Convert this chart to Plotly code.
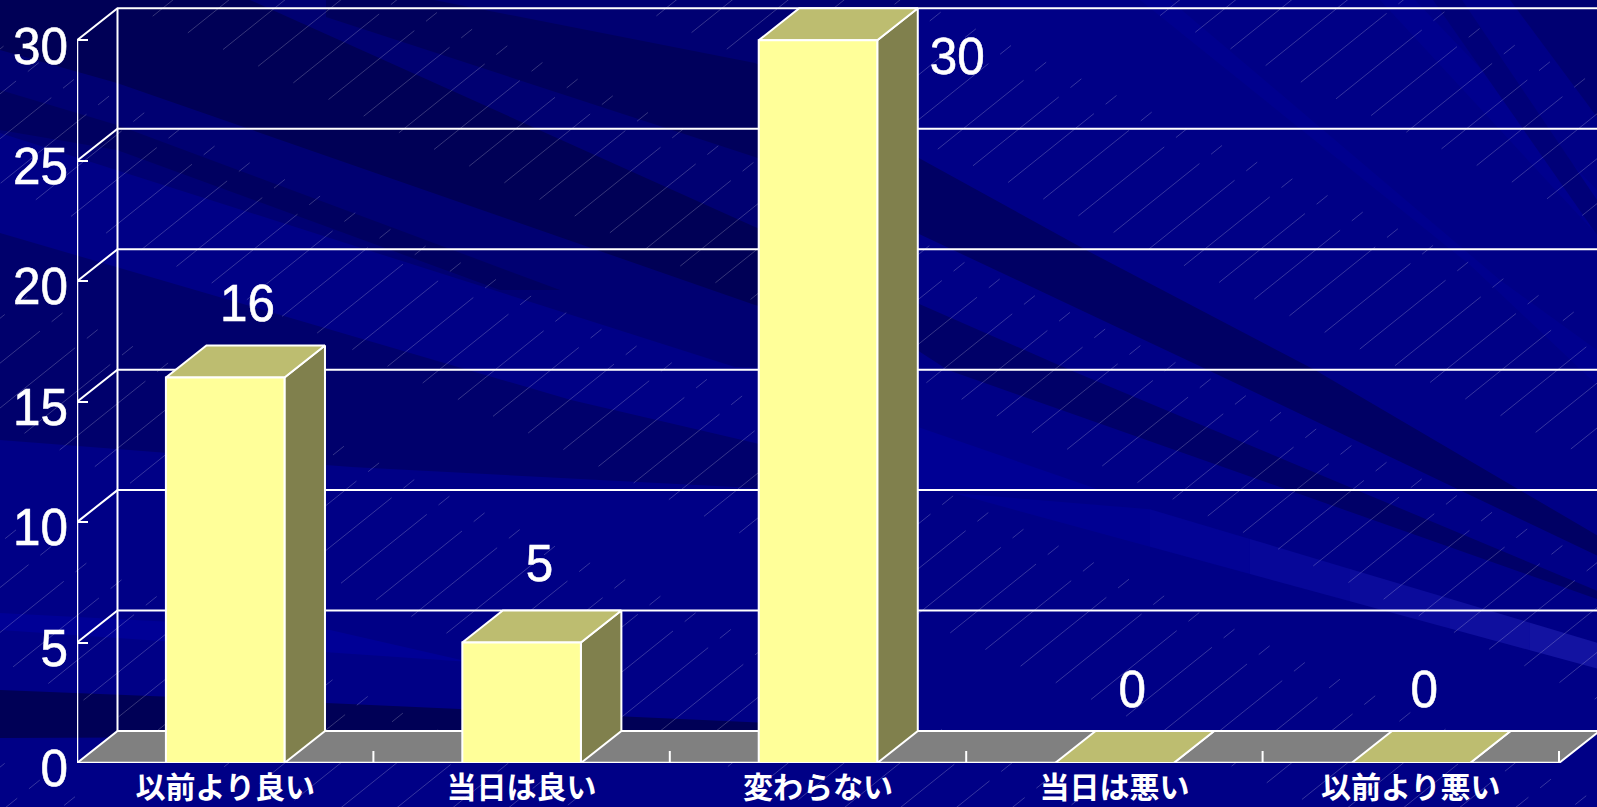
import plotly.graph_objects as go

# ---------- data ----------
categories = ["以前より良い", "当日は良い", "変わらない", "当日は悪い", "以前より悪い"]
values = [16, 5, 30, 0, 0]
y_ticks = [0, 5, 10, 15, 20, 25, 30]
label_dx = [0.075, 0.06, 0.47, 0.06, 0.045]
label_dv = [2.9, 3.1, -0.85, 2.85, 2.85]

# ---------- styles / frame ----------
W, H = 1597, 807
ML, MB = 77, 44
CAT_PX, VAL_PX = 296.4, 24.09
DX, DV = 40.5 / CAT_PX, 32 / VAL_PX
BAR_GAP = 0.3
WHITE = "#FFFFFF"
FRONT, TOP, SIDE, FLOOR = "#FFFF99", "#BDBD70", "#80804D", "#808080"
DIGITS = "Liberation Sans, sans-serif"
x_max = (W - ML) / CAT_PX
v_max = (H - MB) / VAL_PX


def px(x):
    return (x - ML) / (W - ML)


def py(y):
    return (H - MB - y) / (H - MB)


def poly_path(pts):
    return "M" + " L".join(f"{px(x):.5f},{py(y):.5f}" for x, y in pts) + " Z"


# ---------- decorative background (pixel polygons, painted in order) ----------
bg_polys = [
    ("rgb(0,0,134)", [(0, 0), (W, 0), (W, H), (0, H)]),
    ("rgb(0,0,114)", [(0, 0), (1000, 0), (1000, 9), (860, 9), (860, 370), (735, 367), (0, 133)]),
    ("rgb(0,0,86)", [(0, 0), (250, 0), (755, 227), (860, 270), (860, 330), (755, 305), (117, 83), (0, 50)]),
    ("rgb(0,0,92)", [(326, 0), (434, 0), (755, 63), (860, 115), (860, 205), (755, 157), (326, 17)]),
    ("rgb(0,0,96)", [(0, 90), (117, 125), (560, 290), (500, 290), (117, 150), (0, 130)]),
    ("rgb(0,0,108)", [(0, 233), (571, 400), (755, 443), (860, 470), (860, 495), (755, 488), (352, 467), (0, 440)]),
    ("rgb(0,0,150)", [(0, 613), (330, 630), (470, 662), (0, 630)]),
    ("rgb(0,0,86)", [(0, 690), (326, 703), (860, 727), (860, 735), (0, 738)]),
    # right half: dark bands
    ("rgb(0,0,100)", [(860, 115), (917, 157), (1086, 250), (1315, 370), (1600, 537), (1600, 557), (1208, 370), (917, 233), (860, 205)]),
    ("rgb(0,0,104)", [(860, 280), (917, 303), (1070, 370), (1600, 592), (1600, 600), (948, 370), (917, 350), (860, 330)]),
    ("rgb(0,0,148)", [(918, 427), (1100, 490), (918, 490)]),
    # upper right rays
    ("rgb(0,0,142)", [(1140, 0), (1170, 0), (1500, 280), (1597, 350), (1597, 385), (1470, 265)]),
    ("rgb(0,0,142)", [(1380, 0), (1415, 0), (1597, 190), (1597, 235)]),
    ("rgb(0,0,120)", [(1433, 0), (1462, 0), (1597, 200), (1597, 235)]),
    ("rgb(0,0,114)", [(1510, 0), (1597, 0), (1597, 117)]),
]
# lower right streak, brightening in small steps to the right
for x0, x1, r, b in [(953, 1150, 0, 146), (1150, 1250, 3, 149), (1250, 1350, 7, 152),
                     (1350, 1450, 11, 155), (1450, 1530, 15, 158), (1530, 1600, 19, 161)]:
    up = lambda x: max(493, 493 + (x - 1096) * 0.299)
    lo = lambda x: 493 + (x - 953) * 0.2725
    bg_polys.append((f"rgb({r},{r},{b})", [(x0, up(x0)), (x1, up(x1)), (x1, lo(x1)), (x0, lo(x0))]))

shapes = [
    dict(type="path", xref="paper", yref="paper", path=poly_path(p),
         fillcolor=c, line_width=0, layer="below")
    for c, p in bg_polys
]

# diagonal hair-line texture
segs = []
ux, uy = 0.78, -0.626
nx, ny = 0.626, 0.78
for k in range(-2, 70):
    ox, oy = -300 + k * 35 * nx, 200 + k * 35 * ny
    t = -800 + (k * 17) % 240
    while t < 2400:
        for start, length in ((0, 110), (125, 14)):
            a = (ox + ux * (t + start), oy + uy * (t + start))
            b = (ox + ux * (t + start + length), oy + uy * (t + start + length))
            if max(a[0], b[0]) > 0 and min(a[0], b[0]) < W and max(a[1], b[1]) > 0 and min(a[1], b[1]) < H:
                segs.append(f"M{px(a[0]):.5f},{py(a[1]):.5f} L{px(b[0]):.5f},{py(b[1]):.5f}")
        t += 240
shapes.append(dict(type="path", xref="paper", yref="paper", path=" ".join(segs),
                   line=dict(color="rgba(255,255,255,0.27)", width=0.8), layer="below"))

fig = go.Figure()


def poly(xs, ys, fill, width=2):
    fig.add_trace(go.Scatter(
        x=xs + xs[:1], y=ys + ys[:1], mode="lines", fill="toself", fillcolor=fill,
        line=dict(color=WHITE, width=width), hoverinfo="skip", showlegend=False))


def line(xs, ys, width=2):
    fig.add_trace(go.Scatter(
        x=xs, y=ys, mode="lines", line=dict(color=WHITE, width=width),
        hoverinfo="skip", showlegend=False))


n = len(categories)
top = y_ticks[-1]

# back wall and side wall grid
line([DX, DX], [DV, top + DV])
for v in y_ticks[1:]:
    line([0, DX, x_max + 1], [v, v + DV, v + DV])

# floor
poly([0, n, n + DX, DX], [0, 0, DV, DV], FLOOR)

# front axis and category ticks
line([0, 0], [0, top], 2.5)
line([0, n], [0, 0], 2.5)
for i in range(1, n + 1):
    line([i, i], [0, 12 / VAL_PX])

# bars
for i, v in enumerate(values):
    x0, x1 = i + BAR_GAP, i + 1 - BAR_GAP
    poly([x1, x1 + DX, x1 + DX, x1], [0, DV, v + DV, v], SIDE)
    poly([x0, x1, x1 + DX, x0 + DX], [v, v, v + DV, v + DV], TOP)
    poly([x0, x1, x1, x0], [0, 0, v, v], FRONT)

# data labels
fig.add_trace(go.Scatter(
    x=[i + 0.5 + d for i, d in enumerate(label_dx)],
    y=[v + d for v, d in zip(values, label_dv)],
    mode="text", text=[str(v) for v in values], textposition="middle center",
    textfont=dict(family=DIGITS, size=52, color=WHITE),
    hoverinfo="skip", showlegend=False, cliponaxis=False))

fig.update_layout(
    width=W, height=H, autosize=False,
    margin=dict(l=ML, r=0, t=0, b=MB, pad=0),
    paper_bgcolor="rgb(0,0,134)", plot_bgcolor="rgba(0,0,0,0)",
    showlegend=False, shapes=shapes,
    xaxis=dict(range=[0, x_max], tickmode="array", automargin=False,
               tickvals=[i + 0.5 for i in range(n)], ticktext=categories,
               showgrid=False, zeroline=False, showline=False, ticks="",
               tickfont=dict(family="Noto Sans CJK JP", size=30, color=WHITE, weight=700),
               ticklabelstandoff=4, fixedrange=True),
    yaxis=dict(range=[0, v_max], tickmode="array", tickvals=y_ticks, automargin=False,
               showgrid=False, zeroline=False, showline=False,
               ticks="inside", ticklen=11, tickwidth=2, tickcolor=WHITE,
               tickfont=dict(family=DIGITS, size=52, color=WHITE),
               ticklabelstandoff=8, ticklabelshift=5, fixedrange=True),
)
narrow_digits = """
document.querySelectorAll('.ytick text, .textpoint text').forEach(function (t) {
  t.setAttribute('textLength', t.getComputedTextLength() * 0.95);
  t.setAttribute('lengthAdjust', 'spacingAndGlyphs');
  t.style.stroke = '#ffffff';
  t.style.strokeWidth = '0.6px';
});
"""
fig.write_html("out.html", config=dict(displayModeBar=False), post_script=narrow_digits)
with open("out.html", encoding="utf-8") as f:
    page = f.read()
page = page.replace("<head>", "<head><style>html,body{margin:0;padding:0;overflow:hidden;background:rgb(0,0,134)}</style>", 1)
with open("out.html", "w", encoding="utf-8") as f:
    f.write(page)
